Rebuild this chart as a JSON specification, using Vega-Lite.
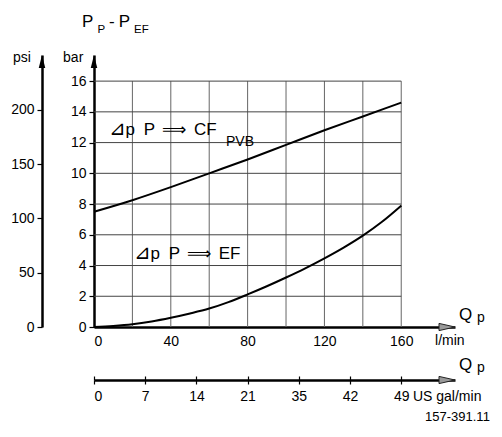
{
  "$schema": "https://vega.github.io/schema/vega-lite/v6.json",
  "width": 361,
  "height": 272,
  "autosize": "none",
  "padding": {"left": 94, "top": 55, "right": 47, "bottom": 110},
  "background": "white",
  "config": {
    "view": {"stroke": null},
    "font": "Liberation Sans",
    "axis": {
      "labelFont": "Liberation Sans",
      "labelFontSize": 14,
      "labelColor": "black",
      "domainColor": "black",
      "tickColor": "black",
      "domainWidth": 2.5,
      "tickWidth": 1.2,
      "grid": false,
      "title": null
    }
  },
  "datasets": {
    "curves": [
      {"q": 0, "dp": 7.5, "curve": "CF"},
      {"q": 20, "dp": 8.25, "curve": "CF"},
      {"q": 40, "dp": 9.1, "curve": "CF"},
      {"q": 60, "dp": 10.0, "curve": "CF"},
      {"q": 80, "dp": 10.9, "curve": "CF"},
      {"q": 100, "dp": 11.85, "curve": "CF"},
      {"q": 120, "dp": 12.8, "curve": "CF"},
      {"q": 140, "dp": 13.7, "curve": "CF"},
      {"q": 160, "dp": 14.6, "curve": "CF"},
      {"q": 0, "dp": 0, "curve": "EF"},
      {"q": 10, "dp": 0.07, "curve": "EF"},
      {"q": 20, "dp": 0.18, "curve": "EF"},
      {"q": 30, "dp": 0.36, "curve": "EF"},
      {"q": 40, "dp": 0.6, "curve": "EF"},
      {"q": 50, "dp": 0.88, "curve": "EF"},
      {"q": 60, "dp": 1.2, "curve": "EF"},
      {"q": 70, "dp": 1.62, "curve": "EF"},
      {"q": 80, "dp": 2.12, "curve": "EF"},
      {"q": 90, "dp": 2.65, "curve": "EF"},
      {"q": 100, "dp": 3.22, "curve": "EF"},
      {"q": 110, "dp": 3.82, "curve": "EF"},
      {"q": 120, "dp": 4.47, "curve": "EF"},
      {"q": 130, "dp": 5.17, "curve": "EF"},
      {"q": 140, "dp": 5.95, "curve": "EF"},
      {"q": 150, "dp": 6.85, "curve": "EF"},
      {"q": 160, "dp": 7.9, "curve": "EF"}
    ],
    "vgrid": [
      {"q": 20}, {"q": 40}, {"q": 60}, {"q": 80}, {"q": 100}, {"q": 120}, {"q": 140}, {"q": 160}
    ],
    "hgrid": [
      {"dp": 2}, {"dp": 4}, {"dp": 6}, {"dp": 8}, {"dp": 10}, {"dp": 12}, {"dp": 14}, {"dp": 16}
    ],
    "labels": [
      {"q": -6.25, "dp": 19.54, "t": "P", "kind": "big"},
      {"q": 1.77, "dp": 19.11, "t": "P", "kind": "sub"},
      {"q": 7.81, "dp": 19.54, "t": "-", "kind": "big"},
      {"q": 12.86, "dp": 19.54, "t": "P", "kind": "big"},
      {"q": 20.88, "dp": 19.11, "t": "EF", "kind": "sub"},
      {"q": -42.2, "dp": 17.24, "t": "psi", "kind": "med"},
      {"q": -16.1, "dp": 17.24, "t": "bar", "kind": "med"},
      {"q": 7.8, "dp": 12.49, "t": "⊿", "kind": "tri"},
      {"q": 16.4, "dp": 12.49, "t": "p", "kind": "big"},
      {"q": 25.88, "dp": 12.49, "t": "P", "kind": "big"},
      {"q": 35.41, "dp": 12.49, "t": "⟹", "kind": "sym"},
      {"q": 52.08, "dp": 12.49, "t": "CF", "kind": "big"},
      {"q": 68.75, "dp": 11.78, "t": "PVB", "kind": "med"},
      {"q": 20.8, "dp": 4.42, "t": "⊿", "kind": "tri"},
      {"q": 29.42, "dp": 4.42, "t": "p", "kind": "big"},
      {"q": 38.9, "dp": 4.42, "t": "P", "kind": "big"},
      {"q": 48.43, "dp": 4.42, "t": "⟹", "kind": "sym"},
      {"q": 64.94, "dp": 4.42, "t": "EF", "kind": "big"},
      {"q": 190.1, "dp": 0.456, "t": "Q", "kind": "big"},
      {"q": 199.5, "dp": 0.325, "t": "p", "kind": "med"},
      {"q": 190.1, "dp": -2.8, "t": "Q", "kind": "big"},
      {"q": 199.5, "dp": -2.93, "t": "p", "kind": "med"},
      {"q": 177.6, "dp": -1.17, "t": "l/min", "kind": "med"},
      {"q": 166.1, "dp": -4.82, "t": "US gal/min", "kind": "med"},
      {"q": 172.4, "dp": -6.12, "t": "157-391.11", "kind": "small"}
    ],
    "arrows": [
      {"q": 0, "dp": 17.7, "dir": "up"},
      {"q": -27.08, "dp": 17.7, "dir": "up"},
      {"q": 188, "dp": 0, "dir": "right"},
      {"q": 188, "dp": -3.449, "dir": "right"}
    ]
  },
  "layer": [
    {
      "data": {"name": "vgrid"},
      "mark": {"type": "rule", "color": "#666666", "strokeWidth": 1},
      "encoding": {
        "x": {"field": "q", "type": "quantitative", "scale": {"domain": [0, 188], "nice": false, "zero": false},
          "axis": {"orient": "bottom", "values": [0, 40, 80, 120, 160], "ticks": false, "labelPadding": 7}},
        "y": {"datum": 0, "type": "quantitative", "scale": {"domain": [0, 17.7], "nice": false, "zero": false},
          "axis": {"orient": "left", "values": [0, 2, 4, 6, 8, 10, 12, 14, 16], "tickSize": 5, "labelPadding": 3}},
        "y2": {"datum": 16}
      }
    },
    {
      "data": {"name": "hgrid"},
      "mark": {"type": "rule", "color": "#444444", "strokeWidth": 1},
      "encoding": {
        "y": {"field": "dp", "type": "quantitative", "scale": {"domain": [0, 17.7], "nice": false, "zero": false}, "axis": null},
        "x": {"datum": 0, "type": "quantitative", "scale": {"domain": [0, 188], "nice": false, "zero": false}, "axis": null},
        "x2": {"datum": 160}
      }
    },
    {
      "data": {"name": "curves"},
      "mark": {"type": "line", "color": "black", "strokeWidth": 2, "interpolate": "monotone"},
      "encoding": {
        "x": {"field": "q", "type": "quantitative", "scale": {"domain": [0, 188], "nice": false, "zero": false}, "axis": null},
        "y": {"field": "dp", "type": "quantitative", "scale": {"domain": [0, 17.7], "nice": false, "zero": false}, "axis": null},
        "detail": {"field": "curve"}
      }
    },
    {
      "data": {"name": "labels"},
      "transform": [{"filter": "datum.kind === 'big'"}],
      "mark": {"type": "text", "align": "left", "baseline": "alphabetic", "fontSize": 17, "color": "black", "font": "Liberation Sans"},
      "encoding": {
        "x": {"field": "q", "type": "quantitative", "scale": {"domain": [0, 188], "nice": false, "zero": false}, "axis": null},
        "y": {"field": "dp", "type": "quantitative", "scale": {"domain": [0, 17.7], "nice": false, "zero": false}, "axis": null},
        "text": {"field": "t"}
      }
    },
    {
      "data": {"name": "labels"},
      "transform": [{"filter": "datum.kind === 'sym'"}],
      "mark": {"type": "text", "align": "left", "baseline": "alphabetic", "fontSize": 17, "color": "black", "font": "DejaVu Sans"},
      "encoding": {
        "x": {"field": "q", "type": "quantitative", "scale": {"domain": [0, 188], "nice": false, "zero": false}, "axis": null},
        "y": {"field": "dp", "type": "quantitative", "scale": {"domain": [0, 17.7], "nice": false, "zero": false}, "axis": null},
        "text": {"field": "t"}
      }
    },
    {
      "data": {"name": "labels"},
      "transform": [{"filter": "datum.kind === 'tri'"}],
      "mark": {"type": "text", "align": "left", "baseline": "alphabetic", "fontSize": 20, "color": "black", "font": "DejaVu Sans"},
      "encoding": {
        "x": {"field": "q", "type": "quantitative", "scale": {"domain": [0, 188], "nice": false, "zero": false}, "axis": null},
        "y": {"field": "dp", "type": "quantitative", "scale": {"domain": [0, 17.7], "nice": false, "zero": false}, "axis": null},
        "text": {"field": "t"}
      }
    },
    {
      "data": {"name": "labels"},
      "transform": [{"filter": "datum.kind === 'med'"}],
      "mark": {"type": "text", "align": "left", "baseline": "alphabetic", "fontSize": 14, "color": "black", "font": "Liberation Sans"},
      "encoding": {
        "x": {"field": "q", "type": "quantitative", "scale": {"domain": [0, 188], "nice": false, "zero": false}, "axis": null},
        "y": {"field": "dp", "type": "quantitative", "scale": {"domain": [0, 17.7], "nice": false, "zero": false}, "axis": null},
        "text": {"field": "t"}
      }
    },
    {
      "data": {"name": "labels"},
      "transform": [{"filter": "datum.kind === 'sub'"}],
      "mark": {"type": "text", "align": "left", "baseline": "alphabetic", "fontSize": 11.5, "color": "black", "font": "Liberation Sans"},
      "encoding": {
        "x": {"field": "q", "type": "quantitative", "scale": {"domain": [0, 188], "nice": false, "zero": false}, "axis": null},
        "y": {"field": "dp", "type": "quantitative", "scale": {"domain": [0, 17.7], "nice": false, "zero": false}, "axis": null},
        "text": {"field": "t"}
      }
    },
    {
      "data": {"name": "labels"},
      "transform": [{"filter": "datum.kind === 'small'"}],
      "mark": {"type": "text", "align": "left", "baseline": "alphabetic", "fontSize": 13, "color": "black", "font": "Liberation Sans"},
      "encoding": {
        "x": {"field": "q", "type": "quantitative", "scale": {"domain": [0, 188], "nice": false, "zero": false}, "axis": null},
        "y": {"field": "dp", "type": "quantitative", "scale": {"domain": [0, 17.7], "nice": false, "zero": false}, "axis": null},
        "text": {"field": "t"}
      }
    },
    {
      "data": {"name": "arrows"},
      "transform": [{"filter": "datum.dir === 'up'"}],
      "mark": {"type": "point", "shape": "M0,0L0.5,2L-0.5,2Z", "size": 169, "filled": true, "color": "black", "opacity": 1},
      "encoding": {
        "x": {"field": "q", "type": "quantitative", "scale": {"domain": [0, 188], "nice": false, "zero": false}, "axis": null},
        "y": {"field": "dp", "type": "quantitative", "scale": {"domain": [0, 17.7], "nice": false, "zero": false}, "axis": null}
      }
    },
    {
      "data": {"name": "arrows"},
      "transform": [{"filter": "datum.dir === 'right'"}],
      "mark": {"type": "point", "shape": "M0,0L-2,-0.45L-2,0.45Z", "size": 256, "filled": true, "fill": "#999999", "stroke": "#222222", "strokeWidth": 1, "opacity": 1},
      "encoding": {
        "x": {"field": "q", "type": "quantitative", "scale": {"domain": [0, 188], "nice": false, "zero": false}, "axis": null},
        "y": {"field": "dp", "type": "quantitative", "scale": {"domain": [0, 17.7], "nice": false, "zero": false}, "axis": null}
      }
    },
    {
      "data": {"name": "hgrid"},
      "mark": {"type": "rule", "opacity": 0},
      "encoding": {
        "y": {"field": "dp", "type": "quantitative", "scale": {"domain": [0, 17.7], "nice": false, "zero": false},
          "axis": {"orient": "left", "offset": 52, "values": [0, 3.5355, 7.0711, 10.6066, 14.1421], "labelExpr": "format(datum.value * 14.1421, '.0f')", "tickSize": 5, "labelPadding": 3}}
      }
    },
    {
      "data": {"name": "vgrid"},
      "mark": {"type": "rule", "opacity": 0},
      "encoding": {
        "x": {"field": "q", "type": "quantitative", "scale": {"domain": [0, 188], "nice": false, "zero": false},
          "axis": {"orient": "bottom", "offset": 53, "values": [0, 26.6667, 53.3333, 80, 106.6667, 133.3333, 160], "labelExpr": "['0','7','14','21','35','42','49'][round(datum.value * 6 / 160)]", "tickSize": 4, "labelPadding": 5}}
      }
    },
    {
      "data": {"name": "vgrid"},
      "mark": {"type": "rule", "opacity": 0},
      "encoding": {
        "x": {"field": "q", "type": "quantitative", "scale": {"domain": [0, 188], "nice": false, "zero": false},
          "axis": {"orient": "bottom", "offset": 53, "values": [0, 26.6667, 53.3333, 80, 106.6667, 133.3333, 160], "tickSize": -4, "labels": false, "domain": false}}
      }
    }
  ],
  "resolve": {"axis": {"x": "independent", "y": "independent"}}
}
